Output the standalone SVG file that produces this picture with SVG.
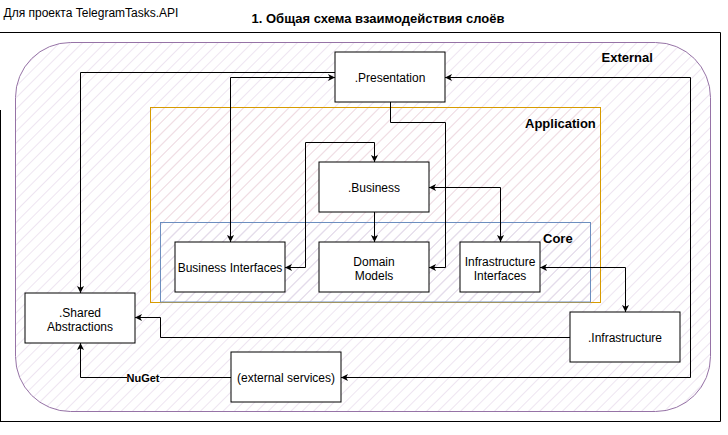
<svg xmlns="http://www.w3.org/2000/svg" width="728" height="435" viewBox="0 0 728 435">
  <style>
    .node rect { fill: #ffffff; stroke: #000000; stroke-width: 1; }
    .node text { font-family: "Liberation Sans", Arial, sans-serif; font-size: 12px; fill: #000000; text-anchor: middle; }
    .lbl { font-family: "Liberation Sans", Arial, sans-serif; font-size: 13px; font-weight: bold; fill: #000000; }
    .conn { fill: none; stroke: #000000; stroke-width: 1; }
    .frame { fill: none; stroke: #000000; stroke-width: 1; }
  </style>
  <defs>
    <pattern id="hatchExt" patternUnits="userSpaceOnUse" width="8" height="8" patternTransform="rotate(45)">
      <line x1="0" y1="0" x2="0" y2="8" stroke="#e3d3e8" stroke-width="1.2"/>
    </pattern>
    <pattern id="hatchApp" patternUnits="userSpaceOnUse" width="8" height="8" patternTransform="rotate(45)">
      <line x1="0" y1="0" x2="0" y2="8" stroke="#f2d6d8" stroke-width="1.2"/>
    </pattern>
    <pattern id="hatchCore" patternUnits="userSpaceOnUse" width="8" height="8" patternTransform="rotate(45)">
      <line x1="0" y1="0" x2="0" y2="8" stroke="#d8dcf2" stroke-width="1.2"/>
    </pattern>
    <marker id="arr" viewBox="0 0 7 7" refX="7" refY="3.5" markerWidth="7" markerHeight="7" markerUnits="userSpaceOnUse" orient="auto-start-reverse">
      <path d="M0,0 L7,3.5 L0,7 L1.8,3.5 z" fill="#000000"/>
    </marker>
  </defs>

  <rect x="0" y="0" width="728" height="435" fill="#ffffff"/>

  <g id="titles">
    <text x="3.5" y="17" font-family="Liberation Sans, Arial, sans-serif" font-size="12">Для проекта TelegramTasks.API</text>
    <text x="378" y="23" font-family="Liberation Sans, Arial, sans-serif" font-size="13" font-weight="bold" text-anchor="middle">1. Общая схема взаимодействия слоёв</text>
  </g>

  <g id="frame">
    <path class="frame" d="M0,32.5 H720.5 V421.5 H0"/>
    <path class="frame" d="M0.5,110 V421.5"/>
  </g>

  <g id="external">
    <rect x="15.5" y="42.5" width="695" height="369" rx="55" ry="55" fill="#ffffff" stroke="none"/>
    <rect x="15.5" y="42.5" width="695" height="369" rx="55" ry="55" fill="url(#hatchExt)" stroke="#9673a6" stroke-width="1"/>
    <text class="lbl" x="601.5" y="62">External</text>
  </g>

  <g id="application">
    <rect x="150.5" y="107.5" width="450" height="195" fill="url(#hatchApp)" stroke="#d79b00" stroke-width="1"/>
    <text class="lbl" x="525" y="128">Application</text>
  </g>

  <g id="core">
    <rect x="160.5" y="222.5" width="430" height="79.5" fill="url(#hatchCore)" stroke="#6c8ebf" stroke-width="1"/>
    <text class="lbl" x="543" y="242.5">Core</text>
  </g>

  <g id="connectors">
    <path class="conn" d="M335,72.5 H80.5 V293" marker-end="url(#arr)"/>
    <path class="conn" d="M230.5,242 V77.5 H335" marker-start="url(#arr)" marker-end="url(#arr)"/>
    <path class="conn" d="M445,77.5 H690.5 V377.5 H341" marker-start="url(#arr)" marker-end="url(#arr)"/>
    <path class="conn" d="M390.5,102 V122.5 H445.5 V267.5 H429" marker-end="url(#arr)"/>
    <path class="conn" d="M374.5,162 V142.5 H305.5 V267.5 H285" marker-start="url(#arr)" marker-end="url(#arr)"/>
    <path class="conn" d="M374.5,212 V242" marker-end="url(#arr)"/>
    <path class="conn" d="M429,187.5 H500.5 V242" marker-start="url(#arr)" marker-end="url(#arr)"/>
    <path class="conn" d="M540,267.5 H625.5 V312" marker-start="url(#arr)" marker-end="url(#arr)"/>
    <path class="conn" d="M570,337.5 H160.5 V317.5 H135" marker-end="url(#arr)"/>
    <path class="conn" d="M231,377.5 H80.5 V343" marker-end="url(#arr)"/>
    <rect x="127" y="373" width="33" height="10" fill="#ffffff"/>
    <text x="143" y="382" font-family="Liberation Sans, Arial, sans-serif" font-size="11" font-weight="bold" text-anchor="middle">NuGet</text>
  </g>

  <g id="presentation" class="node">
    <rect x="335" y="52" width="110" height="50"/>
    <text x="390" y="81.8">.Presentation</text>
  </g>
  <g id="business" class="node">
    <rect x="319" y="162" width="110" height="50"/>
    <text x="374" y="191.8">.Business</text>
  </g>
  <g id="business-interfaces" class="node">
    <rect x="175" y="242" width="110" height="50"/>
    <text x="230" y="271.8">Business Interfaces</text>
  </g>
  <g id="domain-models" class="node">
    <rect x="319" y="242" width="110" height="50"/>
    <text x="374" y="265.5">Domain</text>
    <text x="374" y="279.5">Models</text>
  </g>
  <g id="infrastructure-interfaces" class="node">
    <rect x="460" y="242" width="80" height="50"/>
    <text x="500" y="265.5">Infrastructure</text>
    <text x="500" y="279.5">Interfaces</text>
  </g>
  <g id="shared-abstractions" class="node">
    <rect x="25" y="293" width="110" height="50"/>
    <text x="80" y="316.5">.Shared</text>
    <text x="80" y="330.5">Abstractions</text>
  </g>
  <g id="infrastructure" class="node">
    <rect x="570" y="312" width="110" height="50"/>
    <text x="625" y="341.8">.Infrastructure</text>
  </g>
  <g id="external-services" class="node">
    <rect x="231" y="352" width="110" height="50"/>
    <text x="286" y="381.8">(external services)</text>
  </g>
</svg>
